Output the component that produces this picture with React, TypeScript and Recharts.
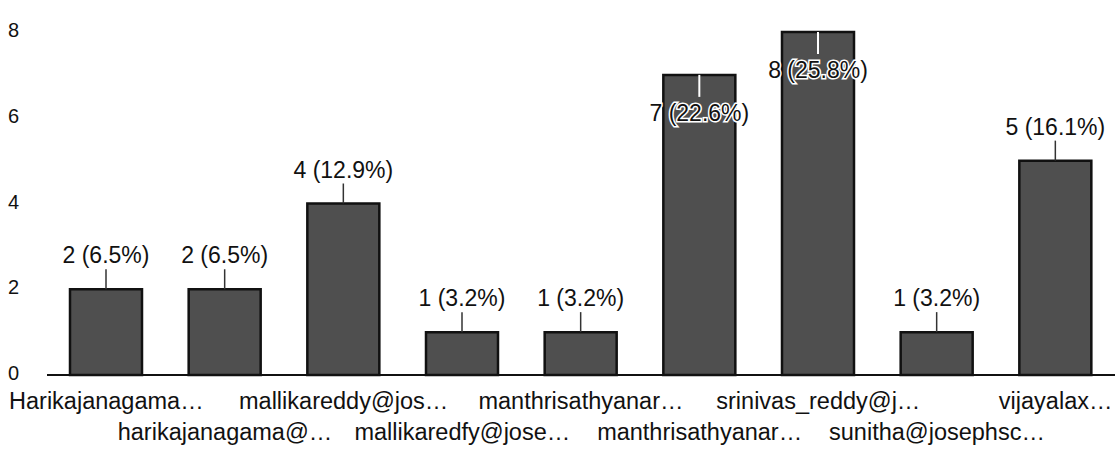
import { Bar, BarChart, XAxis, YAxis, LabelList } from "recharts"

const categories = [
  "Harikajanagama…",
  "harikajanagama@…",
  "mallikareddy@jos…",
  "mallikaredfy@jose…",
  "manthrisathyanar…",
  "manthrisathyanar…",
  "srinivas_reddy@j…",
  "sunitha@josephsc…",
  "vijayalax…",
]
const counts = [2, 2, 4, 1, 1, 7, 8, 1, 5]
const percents = ["6.5%", "6.5%", "12.9%", "3.2%", "3.2%", "22.6%", "25.8%", "3.2%", "16.1%"]
const yTicks = [0, 2, 4, 6, 8]

const data = categories.map((name, i) => ({ name, total: counts[i], pct: percents[i] }))

const FONT = "'Liberation Sans', Arial, sans-serif"

const XTick = (props: any) => {
  const { x, y, payload } = props
  const i = payload.index ?? props.index
  const row = i % 2 === 0 ? 0 : 1
  return (
    <text x={x} y={y + 26 + row * 31} textAnchor="middle" fontSize={23.5} fontFamily={FONT} fill="#111">
      {payload.value}
    </text>
  )
}

const YTick = (props: any) => {
  const { y, payload } = props
  return (
    <text x={8} y={y + 5} textAnchor="start" fontSize={20} fontFamily={FONT} fill="#111">
      {payload.value}
    </text>
  )
}

const BarLabel = (props: any) => {
  const { x, y, width, index } = props
  const cx = x + width / 2
  const txt = `${counts[index]} (${percents[index]})`
  if (y < 110) {
    // no room above, draw inside the bar top with a white halo
    return (
      <g>
        <line x1={cx} x2={cx} y1={y} y2={y + 22} stroke="#fff" strokeWidth={2} />
        <text x={cx} y={y + 46} textAnchor="middle" fontSize={23} fontFamily={FONT}
          fill="#111" stroke="#fff" strokeWidth={3} paintOrder="stroke">
          {txt}
        </text>
      </g>
    )
  }
  return (
    <g>
      <line x1={cx} x2={cx} y1={y - 20} y2={y} stroke="#333" strokeWidth={1.5} />
      <text x={cx} y={y - 26} textAnchor="middle" fontSize={23} fontFamily={FONT} fill="#111">
        {txt}
      </text>
    </g>
  )
}

export default function App() {
  return (
    <div style={{ position: "absolute", left: 0, top: 0, width: 1115, height: 452, background: "#fff" }}>
      <BarChart width={1115} height={452} data={data} margin={{ top: 32, right: 0, bottom: 0, left: 7 }}>
        <XAxis
          dataKey="name"
          height={77}
          interval={0}
          tickLine={false}
          axisLine={{ stroke: "#111", strokeWidth: 2 }}
          tick={<XTick />}
        />
        <YAxis
          width={40}
          domain={[0, 8]}
          ticks={yTicks}
          tickLine={false}
          axisLine={false}
          tick={<YTick />}
        />
        <Bar dataKey="total" fill="#4f4f4f" stroke="#111" strokeWidth={2.5} barSize={72} isAnimationActive={false}>
          <LabelList dataKey="total" content={<BarLabel />} />
        </Bar>
      </BarChart>
    </div>
  )
}
